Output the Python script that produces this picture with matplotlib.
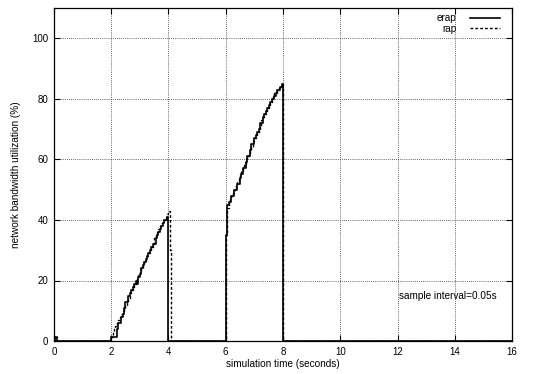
import numpy as np
from matplotlib import pyplot as plt

plt.rcParams['font.family'] = ['Liberation Sans', 'DejaVu Sans']

# sample interval 0.05s, values in percent
dt = 0.05
start_val = [0, 1.5]  # t=0.00, 0.05

erap_a = [1.5, 1.5, 1.5, 1.5, 4, 6, 6, 8, 9, 11, 13, 13, 15, 16, 17, 18, 19, 20, 19, 21,
          22, 24, 25, 26, 27, 28, 29, 30, 31, 32, 32, 34, 35, 36, 37, 38, 39, 40, 40, 41, 0]
rap_a = [1.5, 3, 4, 5, 6, 7, 8, 9, 10, 11, 12, 13, 14, 16, 17, 18, 19, 20, 21, 22,
         23, 24, 25, 26, 27, 28, 29, 30, 31, 32, 34, 35, 36, 37, 38, 39, 40, 40, 41, 42, 43, 30, 0]

erap_b = [35, 45, 46, 46, 48, 48, 50, 50, 52, 52, 54, 55, 57, 57, 59, 61, 61, 63, 65, 65,
          67, 68, 69, 70, 72, 72, 74, 75, 76, 77, 78, 79, 80, 80, 81, 82, 83, 83, 84, 85, 0]
rap_b = [35, 44, 46, 47, 48, 49, 50, 52, 53, 54, 55, 56, 57, 58, 60, 61, 62, 63, 64, 66,
         67, 68, 69, 70, 71, 73, 74, 75, 76, 77, 78, 79, 80, 81, 82, 82, 83, 84, 84, 85, 0]


def build(seg_a, seg_b):
    t = np.arange(0, 16 + dt / 2, dt)
    y = np.zeros_like(t)
    y[:len(start_val)] = start_val
    i2 = int(round(2 / dt))
    i6 = int(round(6 / dt))
    y[i2:i2 + len(seg_a)] = seg_a
    y[i6:i6 + len(seg_b)] = seg_b
    return t, y


fig = plt.figure(figsize=(5.39, 3.74), dpi=100)
ax = fig.add_axes([0.1, 0.088, 0.85, 0.891])

t, y = build(erap_a, erap_b)
ax.step(t, y, where='post', color='black', lw=1.2, label='erap')
t, y = build(rap_a, rap_b)
ax.step(t, y, where='post', color='black', lw=1.0, ls=(0, (2, 1.5)), label='rap')

ax.set_xlim(0, 16)
ax.set_ylim(0, 110)
ax.set_xticks(np.arange(0, 17, 2))
ax.set_yticks(np.arange(0, 101, 20))
ax.grid(True, color='#333333', ls=(0, (1, 1.5)), lw=0.6)
ax.tick_params(direction='in', top=True, right=True, labelsize=7, length=4, pad=4)
for s in ax.spines.values():
    s.set_linewidth(0.9)

ax.set_xlabel('simulation time (seconds)', fontsize=7.2, labelpad=2)
ax.set_ylabel('network bandwidth utilization (%)', fontsize=7.2, labelpad=8)
ax.text(12.05, 14.8, 'sample interval=0.05s', fontsize=7.2, va='center')

ax.legend(loc='upper right', bbox_to_anchor=(0.974, 0.984), frameon=False,
          markerfirst=False, fontsize=7.2, handlelength=3.0, handletextpad=1.4,
          labelspacing=0.05, borderaxespad=0, borderpad=0)

plt.savefig('out.png')
